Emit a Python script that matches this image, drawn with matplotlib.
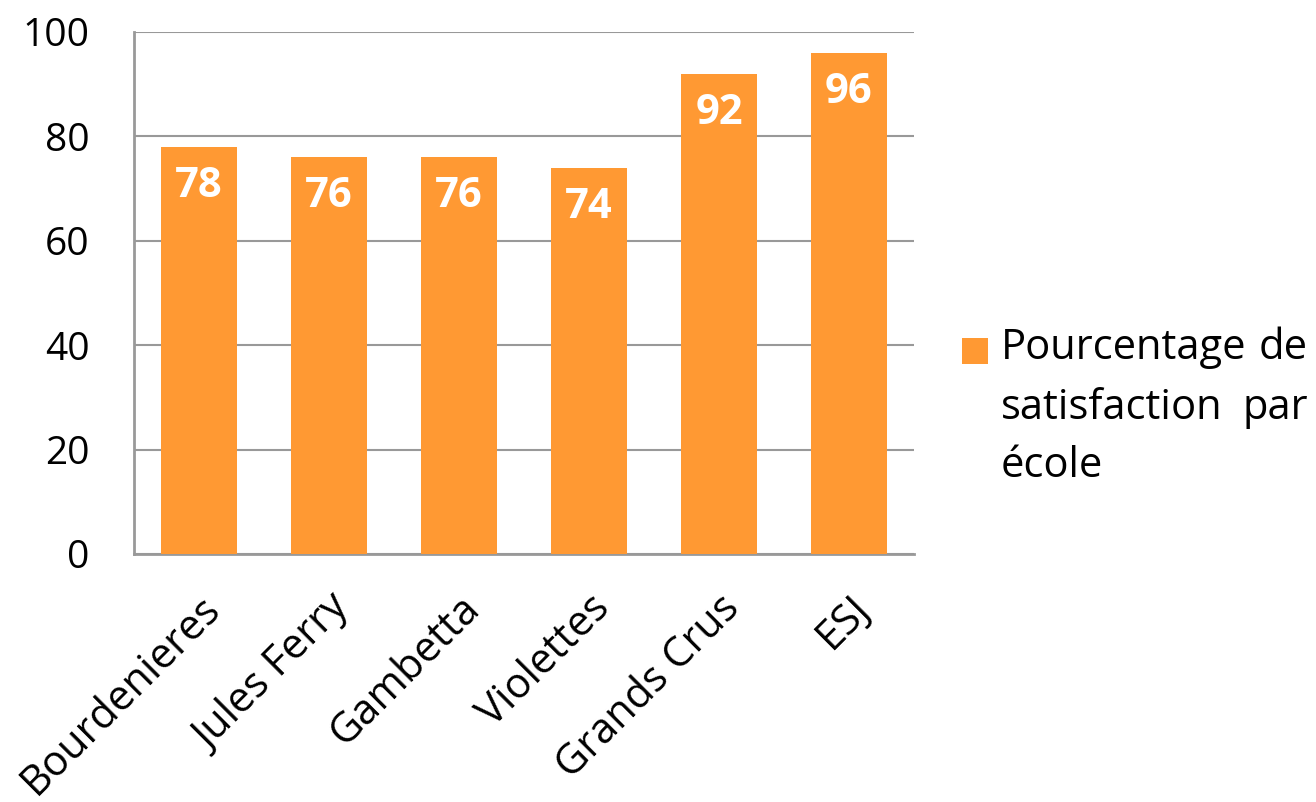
import numpy as np
import matplotlib.pyplot as plt
from matplotlib.patches import Rectangle

plt.rcParams['font.family'] = ['Open Sans', 'DejaVu Sans']

# school names and satisfaction percentages
ecoles = ["Bourdenieres", "Jules Ferry", "Gambetta", "Violettes", "Grands Crus", "ESJ"]
satisfaction = [78, 76, 76, 74, 92, 96]
# legend text, one list per line (justified: words pushed to both edges)
legend_lines = [["Pourcentage", "de"], ["satisfaction", "par"], ["école"]]

bar_color = "#FF9933"
grid_color = "#999999"
W, H = 1316, 802

fig = plt.figure(figsize=(W / 100, H / 100), dpi=100)
ax = fig.add_axes([134 / W, 1 - 554 / H, 780 / W, 522 / H])

x = np.arange(len(ecoles))
bars = ax.bar(x, satisfaction, width=0.58, color=bar_color, zorder=3)

# value labels inside the top of each bar
for rect, val in zip(bars, satisfaction):
    ax.text(rect.get_x() + rect.get_width() / 2, val - 7.6, str(val),
            ha="center", va="center", color="white", fontsize=30,
            fontweight="bold", zorder=4)

ax.set_xlim(-0.5, len(ecoles) - 0.5)
ax.set_ylim(0, 100)
ax.set_yticks(range(0, 101, 20))
ax.yaxis.grid(True, color=grid_color, linewidth=1.5, zorder=0)
ax.set_axisbelow(True)

for side in ["top", "right"]:
    ax.spines[side].set_visible(False)
for side in ["left", "bottom"]:
    ax.spines[side].set_color(grid_color)
    ax.spines[side].set_linewidth(2)

ax.tick_params(axis="y", length=0, labelsize=28, pad=32)
ax.tick_params(axis="x", length=0, labelsize=30, pad=24)
ax.set_xticks(x)
ax.set_xticklabels(ecoles, rotation=45, ha="right", rotation_mode="anchor")

# legend: orange square + justified text block
fig.add_artist(Rectangle((962 / W, 1 - 364 / H), 26 / W, 26 / H,
                         transform=fig.transFigure, facecolor=bar_color,
                         edgecolor="none"))
baselines = [359, 419, 477]
for words, yb in zip(legend_lines, baselines):
    fig.text(1001 / W, 1 - yb / H, words[0], fontsize=30, va="baseline", ha="left")
    if len(words) > 1:
        fig.text(1308 / W, 1 - yb / H, words[1], fontsize=30, va="baseline", ha="right")

fig.savefig("out.png", dpi=100)
